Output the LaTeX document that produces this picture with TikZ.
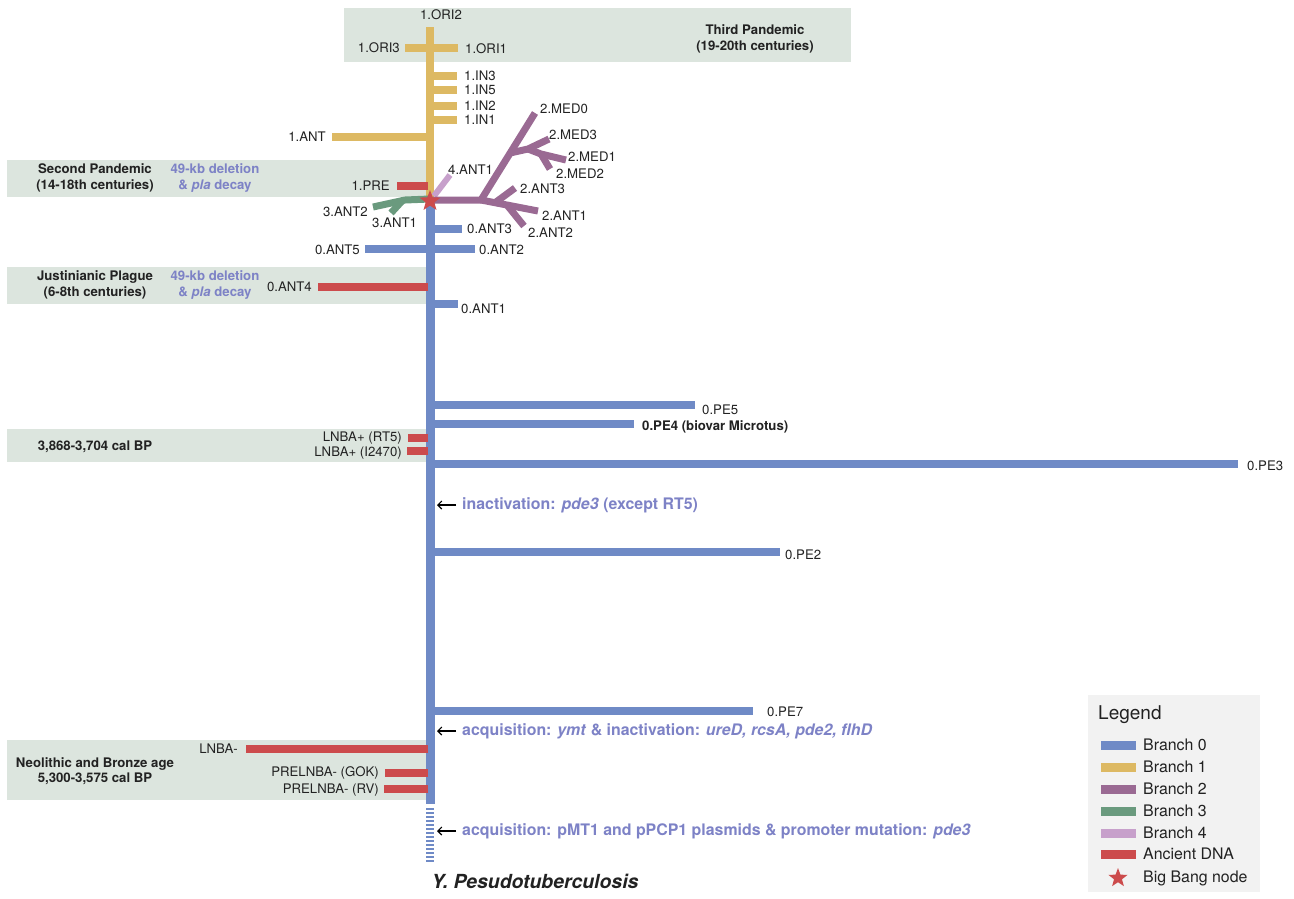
\documentclass[tikz,border=0pt]{standalone}
\usepackage{fontspec}
\setmainfont{TeX Gyre Heros}
\usetikzlibrary{shapes.geometric,arrows.meta}
\definecolor{bzero}{HTML}{6F8AC6}
\definecolor{bone}{HTML}{DDB963}
\definecolor{btwo}{HTML}{9A6A93}
\definecolor{bthree}{HTML}{6A9A7E}
\definecolor{bfour}{HTML}{C7A0CB}
\definecolor{adna}{HTML}{CC4B4C}
\definecolor{bgbox}{HTML}{DCE5DE}
\definecolor{legbg}{HTML}{F2F2F2}
\definecolor{txt}{HTML}{222222}
\definecolor{anno}{HTML}{7D82C6}
\begin{document}
\begin{tikzpicture}[x=1pt,y=-1pt,
  lbl/.style={font=\fontsize{13.2}{15}\selectfont, text=txt, inner sep=0pt},
  boxt/.style={font=\fontsize{13.2}{15.5}\selectfont\bfseries, text=txt, inner sep=0pt, align=center},
  annot/.style={font=\fontsize{13.2}{15.5}\selectfont\bfseries, text=anno, inner sep=0pt, align=center},
  bigannot/.style={font=\fontsize{15.9}{18}\selectfont\bfseries, text=anno, inner sep=0pt, anchor=west},
  period/.style={fill=bgbox, draw=none},
  zero/.style={draw=bzero, line width=8pt},
  one/.style={draw=bone, line width=7.5pt},
  two/.style={draw=btwo, line width=7pt},
  three/.style={draw=bthree, line width=7pt},
  four/.style={draw=bfour, line width=6pt},
  dna/.style={draw=adna, line width=8pt},
  arr/.style={draw=black, line width=1.1pt, -{Straight Barb[length=4pt,width=8pt]}},
  bigbang/.style={star, star points=5, star point ratio=2.4, fill=adna, draw=none, inner sep=0pt, minimum size=22pt},
  legt/.style={font=\fontsize{15.9}{18}\selectfont, text=txt, inner sep=0pt, anchor=west},
  sw/.style={line width=9pt}
]
\useasboundingbox (0,0) rectangle (1294,898);

% period boxes
\fill[period] (344,8) rectangle (851,62);
\fill[period] (7,160) rectangle (428,197);
\fill[period] (7,267) rectangle (428,304);
\fill[period] (7,429) rectangle (428,462);
\fill[period] (7,740) rectangle (428,800);

\node[boxt] (tp) at (755,39) {Third Pandemic\\(19-20th centuries)};
\node[boxt] (sp) at (95,178) {Second Pandemic\\(14-18th centuries)};
\node[annot] (spa) at (215,178) {49-kb deletion\\\& \textit{pla} decay};
\node[boxt] (jp) at (95,285) {Justinianic Plague\\(6-8th centuries)};
\node[annot] (jpa) at (215,285) {49-kb deletion\\\& \textit{pla} decay};
\node[boxt] (cal) at (95,447) {3,868-3,704 cal BP};
\node[boxt] (neo) at (95,771) {Neolithic and Bronze age\\5,300-3,575 cal BP};

% coordinates
\coordinate (S) at (430,200);
\coordinate (top1) at (430,27);
\coordinate (bot0) at (430,804);
\coordinate (dash0) at (430,808);
\coordinate (dashE) at (430,862);

% Branch 1 (yellow)
\draw[one] (S) -- (top1);
\coordinate (ori3) at (405,48); \coordinate (ori1) at (458,48);
\draw[one] (ori3) -- (ori1);
\foreach \yy/\nm in {76/in3,90/in5,106/in2,120/in1}{
  \coordinate (\nm a) at (430,\yy); \coordinate (\nm b) at (457,\yy);
  \draw[one] (\nm a) -- (\nm b);
}
\coordinate (anta) at (430,137); \coordinate (antb) at (332,137);
\draw[one] (anta) -- (antb);

% Branch 0 (blue)
\draw[zero, line width=9pt] (S) -- (bot0);
\draw[zero, line width=8pt, dash pattern=on 2pt off 2pt] (dash0) -- (dashE);
\foreach \yy/\xe/\nm in {229/462/a3, 304/458/a1, 405/695/p5, 424/634/p4, 464/1238/p3, 552/780/p2, 711/753/p7}{
  \coordinate (\nm s) at (430,\yy); \coordinate (\nm e) at (\xe,\yy);
  \draw[zero] (\nm s) -- (\nm e);
}
\coordinate (a5e) at (365,249); \coordinate (a2e) at (475,249);
\draw[zero] (a5e) -- (a2e);

% Ancient DNA (red)
\foreach \yy/\xe/\nm in {186/397/pre, 287/318/a4, 438/408/rt5, 451/407/i24, 749/246/lnb, 773/385/gok, 789/384/rv}{
  \coordinate (\nm s) at (428,\yy); \coordinate (\nm e) at (\xe,\yy);
  \draw[dna] (\nm s) -- (\nm e);
}

% Branch 4
\coordinate (f1s) at (434,196); \coordinate (f1e) at (450,175);
\draw[four] (f1s) -- (f1e);

% Branch 3
\coordinate (g0) at (430,199); \coordinate (g1) at (405,200); \coordinate (g2) at (373,207);
\coordinate (g3) at (402,201); \coordinate (g4) at (391,213);
\draw[three, line join=round] (g0) -- (g1) -- (g2);
\draw[three] (g3) -- (g4);

% Branch 2
\coordinate (h0) at (430,200); \coordinate (h1) at (481,200);
\coordinate (m0) at (535,113); \coordinate (jm) at (510,153);
\coordinate (jb) at (528,149); \coordinate (m3) at (549,139);
\coordinate (jc) at (541,154); \coordinate (m1) at (566,160); \coordinate (m2) at (550,169);
\coordinate (an1) at (538,211);
\coordinate (j2) at (507,205); \coordinate (an2) at (524,226);
\coordinate (j3) at (496,202); \coordinate (an3) at (515,188);
\draw[two, line join=round] (h0) -- (h1) -- (m0);
\draw[two, line join=round] (jm) -- (jb) -- (m3);
\draw[two, line join=round] (jb) -- (jc) -- (m1);
\draw[two] (jc) -- (m2);
\draw[two, line join=round] (h1) -- (an1);
\draw[two] (j2) -- (an2);
\draw[two] (j3) -- (an3);

% Big bang star
\node[bigbang] (bb) at (430,201) {};

% labels
\node[lbl] (l-ori2) at (441,15) {1.ORI2};
\node[lbl, anchor=east] (l-ori3) at (400,48) {1.ORI3};
\node[lbl, anchor=west] (l-ori1) at (465,49) {1.ORI1};
\node[lbl, anchor=west] (l-in3) at (464,76) {1.IN3};
\node[lbl, anchor=west] (l-in5) at (464,90) {1.IN5};
\node[lbl, anchor=west] (l-in2) at (464,106) {1.IN2};
\node[lbl, anchor=west] (l-in1) at (464,120) {1.IN1};
\node[lbl, anchor=east] (l-ant) at (326,137) {1.ANT};
\node[lbl, anchor=east] (l-pre) at (390,186) {1.PRE};
\node[lbl, anchor=west] (l-4ant1) at (448,170) {4.ANT1};
\node[lbl, anchor=west] (l-med0) at (540,109) {2.MED0};
\node[lbl, anchor=west] (l-med3) at (549,135) {2.MED3};
\node[lbl, anchor=west] (l-med1) at (568,157) {2.MED1};
\node[lbl, anchor=west] (l-med2) at (556,174) {2.MED2};
\node[lbl, anchor=west] (l-2ant3) at (520,189) {2.ANT3};
\node[lbl, anchor=west] (l-2ant1) at (542,216) {2.ANT1};
\node[lbl, anchor=west] (l-2ant2) at (528,233) {2.ANT2};
\node[lbl, anchor=east] (l-3ant2) at (368,212) {3.ANT2};
\node[lbl, anchor=west] (l-3ant1) at (372,223) {3.ANT1};
\node[lbl, anchor=west] (l-0ant3) at (467,229) {0.ANT3};
\node[lbl, anchor=east] (l-0ant5) at (360,250) {0.ANT5};
\node[lbl, anchor=west] (l-0ant2) at (479,250) {0.ANT2};
\node[lbl, anchor=east] (l-0ant4) at (312,287) {0.ANT4};
\node[lbl, anchor=west] (l-0ant1) at (461,309) {0.ANT1};
\node[lbl, anchor=west] (l-pe5) at (702,410) {0.PE5};
\node[lbl, anchor=west, font=\fontsize{13.2}{15}\selectfont\bfseries] (l-pe4) at (642,427) {0.PE4 (biovar Microtus)};
\node[lbl, anchor=east] (l-rt5) at (402,438) {LNBA+ (RT5)};
\node[lbl, anchor=east] (l-i24) at (402,453) {LNBA+ (I2470)};
\node[lbl, anchor=west] (l-pe3) at (1247,466) {0.PE3};
\node[lbl, anchor=west] (l-pe2) at (785,555) {0.PE2};
\node[lbl, anchor=west] (l-pe7) at (767,712) {0.PE7};
\node[lbl, anchor=east] (l-lnb) at (238,749) {LNBA-};
\node[lbl, anchor=east] (l-gok) at (379,773) {PRELNBA- (GOK)};
\node[lbl, anchor=east] (l-rv) at (379,790) {PRELNBA- (RV)};

% annotations
\node[bigannot] (n-inact) at (462,505) {inactivation: \textit{pde3} (except RT5)};
\node[bigannot] (n-acq1) at (462,731) {acquisition: \textit{ymt} \& inactivation: \textit{ureD, rcsA, pde2, flhD}};
\node[bigannot] (n-acq2) at (462,831) {acquisition: pMT1 and pPCP1 plasmids \& promoter mutation: \textit{pde3}};
\coordinate (t-inact) at (437,505);
\coordinate (t-acq1) at (437,731);
\coordinate (t-acq2) at (437,831);
\draw[arr] ([xshift=-6pt]n-inact.west) -- (t-inact);
\draw[arr] ([xshift=-6pt]n-acq1.west) -- (t-acq1);
\draw[arr] ([xshift=-6pt]n-acq2.west) -- (t-acq2);

\node[font=\fontsize{19.4}{22}\selectfont\bfseries\itshape, text=txt, inner sep=0pt] (ypst) at (535,881) {Y. Pesudotuberculosis};

% legend
\fill[legbg] (1088,695) rectangle (1260,892);
\node[font=\fontsize{19}{22}\selectfont, text=txt, inner sep=0pt, anchor=west] (leg) at (1098,715) {Legend};
\foreach \yy/\cc/\tt [count=\i] in {745/bzero/Branch 0, 767/bone/Branch 1, 789/btwo/Branch 2, 811/bthree/Branch 3, 833/bfour/Branch 4, 854/adna/Ancient DNA}{
  \coordinate (sw\i a) at (1101,\yy); \coordinate (sw\i b) at (1136,\yy);
  \draw[sw, draw=\cc] (sw\i a) -- (sw\i b);
  \node[legt] (lt\i) at (1143,\yy) {\tt};
}
\node[bigbang, minimum size=20pt] (legstar) at (1118,878) {};
\node[legt] (lt7) at (1143,878) {Big Bang node};
\end{tikzpicture}
\end{document}
